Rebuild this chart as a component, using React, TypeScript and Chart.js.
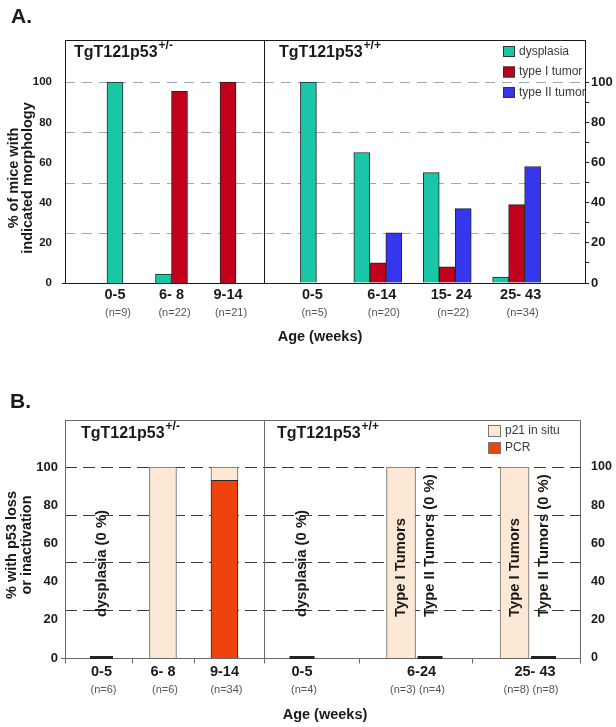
import React, { useEffect, useRef } from "react";
import { Chart, registerables } from "chart.js";
Chart.register(...registerables);

const FONT = "'Liberation Sans', Arial, Helvetica, sans-serif";

// ---------------- Panel A data ----------------
const A_SERIES = ["dysplasia", "type I tumor", "type II tumor"];
const A_HET_AGES = ["0-5", "6- 8", "9-14"];
const A_HET_N = ["(n=9)", "(n=22)", "(n=21)"];
const A_HET_DYSPLASIA = [100, 4.5, null];
const A_HET_TYPE1 = [null, 95.5, 100];
const A_HET_TYPE2 = [null, null, null];

const A_WT_AGES = ["0-5", "6-14", "15- 24", "25- 43"];
const A_WT_N = ["(n=5)", "(n=20)", "(n=22)", "(n=34)"];
const A_WT_DYSPLASIA = [100, 65, 55, 3];
const A_WT_TYPE1 = [null, 10, 8, 39];
const A_WT_TYPE2 = [null, 25, 37, 58];

// ---------------- Panel B data ----------------
const B_SERIES = ["p21 in situ", "PCR"];
const B_HET_AGES = ["0-5", "6- 8", "9-14"];
const B_HET_N = ["(n=6)", "(n=6)", "(n=34)"];
const B_HET_PCR = [0, 0, 93];
const B_HET_P21 = [0, 100, 7];
const B_HET_NOTES = ["dysplasia (0 %)", null, null];

const B_WT_AGES = ["0-5", "6-24", "25- 43"];
const B_WT_T1_N = ["(n=4)", "(n=3)", "(n=8)"];
const B_WT_T1_PCR = [0, 0, 0];
const B_WT_T1_P21 = [0, 100, 100];
const B_WT_T1_NOTES = ["dysplasia (0 %)", "Type I Tumors", "Type I Tumors"];
const B_WT_T2_N = [null, "(n=4)", "(n=8)"];
const B_WT_T2_PCR = [null, 0, 0];
const B_WT_T2_P21 = [null, 0, 0];
const B_WT_T2_NOTES = [null, "Type II Tumors (0 %)", "Type II Tumors (0 %)"];

// ---------------- axes ----------------
const Y_LABEL_TICKS = [0, 20, 40, 60, 80, 100];
const Y_MINOR_TICKS = [0, 10, 20, 30, 40, 50, 60, 70, 80, 90, 100];
const GRID_VALUES = [25, 50, 75, 100];
const NOTE_START = 21.5;

const C_DYS = "#19c7a6";
const C_T1 = "#c1001b";
const C_T2 = "#3636ee";
const C_P21 = "#fde8d5";
const C_PCR = "#ef430d";
const INK = "#1a1a1a";

const SPLIT_X = 264; // page x where the right-hand canvases start
const A_H = 355;
const B_H = 372;

const pts = (arr: (number | null)[]) => arr.map((y, i) => ({ x: i, y }));

function txt(ctx: any, s: string, x: number, y: number, font: string, color: string, align: CanvasTextAlign = "center", baseline: CanvasTextBaseline = "middle") {
  ctx.font = font;
  ctx.fillStyle = color;
  ctx.textAlign = align;
  ctx.textBaseline = baseline;
  ctx.fillText(s, x, y);
}
function vtxt(ctx: any, s: string, x: number, y: number, font: string, color: string, align: CanvasTextAlign = "center") {
  ctx.save();
  ctx.translate(x, y);
  ctx.rotate(-Math.PI / 2);
  txt(ctx, s, 0, 0, font, color, align, "middle");
  ctx.restore();
}
function titleSup(ctx: any, main: string, sup: string, x: number, baseline: number) {
  txt(ctx, main, x, baseline, `bold 16px ${FONT}`, INK, "left", "alphabetic");
  ctx.font = `bold 16px ${FONT}`;
  const w = ctx.measureText(main).width;
  txt(ctx, sup, x + w + 1, baseline - 8, `bold 12px ${FONT}`, INK, "left", "alphabetic");
}
function drawGrid(chart: any, color: string, dash: number[]) {
  const { ctx, chartArea: ca, scales } = chart;
  ctx.save();
  ctx.strokeStyle = color;
  ctx.lineWidth = 1.2;
  ctx.setLineDash(dash);
  GRID_VALUES.forEach((v) => {
    const py = Math.round(scales.y.getPixelForValue(v)) + 0.5;
    ctx.beginPath();
    ctx.moveTo(ca.left, py);
    ctx.lineTo(ca.right, py);
    ctx.stroke();
  });
  ctx.restore();
}
function drawFrame(chart: any, color: string) {
  const { ctx, chartArea: ca } = chart;
  ctx.save();
  ctx.strokeStyle = color;
  ctx.lineWidth = 1;
  ctx.strokeRect(Math.round(ca.left) + 0.5, Math.round(ca.top) + 0.5, Math.round(ca.right - ca.left), Math.round(ca.bottom - ca.top));
  ctx.restore();
}
function legend(ctx: any, names: string[], colors: string[], border: string, x: number, y: number, step: number, w: number, h: number) {
  names.forEach((s, k) => {
    const ly = y + step * k;
    ctx.fillStyle = colors[k];
    ctx.fillRect(x, ly, w, h);
    ctx.strokeStyle = border;
    ctx.lineWidth = 1;
    ctx.strokeRect(x + 0.5, ly + 0.5, w - 1, h - 1);
    txt(ctx, s, x + w + 4, ly + h / 2, `12px ${FONT}`, "#3a3a3a", "left");
  });
}

function valueAxis(o: { position: "left" | "right"; width: number; max: number; size: number; padding: number; values: number[]; tickLength: number }) {
  return {
    type: "linear",
    position: o.position,
    min: 0,
    max: o.max,
    afterBuildTicks: (s: any) => {
      s.ticks = o.values.map((v) => ({ value: v }));
    },
    afterFit: (s: any) => {
      s.width = o.width;
    },
    grid: { display: o.tickLength > 0, drawOnChartArea: false, drawTicks: o.tickLength > 0, tickLength: o.tickLength, color: INK, lineWidth: 1 },
    border: { display: false },
    ticks: {
      autoSkip: false,
      padding: o.padding,
      color: INK,
      font: { family: FONT, size: o.size, weight: "bold" },
      callback: (v: any) => (Number(v) % 20 === 0 ? String(v) : ""),
    },
  };
}

function baseConfig(datasets: any[], xMin: number, xMax: number, yAxis: any, padding: any, stacked: boolean, plugin: any): any {
  const x: any = { type: "linear", display: false, offset: false, min: xMin, max: xMax };
  const y: any = { ...yAxis };
  if (stacked) {
    x.stacked = true;
    y.stacked = true;
  }
  return {
    type: "bar",
    data: { datasets },
    options: {
      responsive: false,
      animation: false,
      events: [],
      layout: { padding },
      plugins: { legend: { display: false }, tooltip: { enabled: false }, title: { display: false } },
      scales: { x, y },
    },
    plugins: [plugin],
  };
}

// ---------------- Panel A ----------------
const barA = (label: string, arr: (number | null)[], color: string) => ({
  label,
  data: pts(arr),
  backgroundColor: color,
  borderColor: "#262626",
  borderWidth: 1,
  barThickness: 16,
  skipNull: true,
});
const A_BOLD = `bold 14.5px ${FONT}`;
const N_FONT = `11px ${FONT}`;
const NOTE_FONT = `bold 14.8px ${FONT}`;
const A_GRID = "#9ea6ba";
const A_DASH = [10, 7];

function configALeft(): any {
  const plugin = {
    id: "aLeft",
    beforeDatasetsDraw(chart: any) {
      drawGrid(chart, A_GRID, A_DASH);
    },
    afterDatasetsDraw(chart: any) {
      const { ctx, chartArea: ca, scales } = chart;
      drawFrame(chart, INK);
      ctx.save();
      ctx.strokeStyle = INK;
      ctx.beginPath();
      ctx.moveTo(ca.left - 3, Math.round(ca.bottom) + 0.5);
      ctx.lineTo(ca.left, Math.round(ca.bottom) + 0.5);
      ctx.stroke();
      A_HET_AGES.forEach((a, i) => {
        const px = scales.x.getPixelForValue(i);
        txt(ctx, a, px, 295, A_BOLD, INK);
        txt(ctx, A_HET_N[i], px + 3, 313, N_FONT, "#555");
      });
      titleSup(ctx, "TgT121p53", "+/-", ca.left + 9, ca.top + 17);
      vtxt(ctx, "% of mice with", 14, 178, A_BOLD, INK);
      vtxt(ctx, "indicated morphology", 28, 178, A_BOLD, INK);
      txt(ctx, "A.", 11, 23, `bold 21px ${FONT}`, INK, "left", "alphabetic");
      ctx.restore();
    },
  };
  return baseConfig(
    [barA(A_SERIES[0], A_HET_DYSPLASIA, C_DYS), barA(A_SERIES[1], A_HET_TYPE1, C_T1), barA(A_SERIES[2], A_HET_TYPE2, C_T2)],
    -0.885,
    2.637,
    valueAxis({ position: "left", width: 65, max: 121, size: 11.5, padding: 13, values: Y_LABEL_TICKS, tickLength: 0 }),
    { top: 40, bottom: A_H - 283, left: 0, right: 1 },
    false,
    plugin
  );
}

function configARight(): any {
  const plugin = {
    id: "aRight",
    beforeDatasetsDraw(chart: any) {
      drawGrid(chart, A_GRID, A_DASH);
    },
    afterDatasetsDraw(chart: any) {
      const { ctx, chartArea: ca, scales } = chart;
      drawFrame(chart, INK);
      ctx.save();
      A_WT_AGES.forEach((a, i) => {
        const px = scales.x.getPixelForValue(i);
        txt(ctx, a, px + 4, 295, A_BOLD, INK);
        txt(ctx, A_WT_N[i], px + 6, 313, N_FONT, "#555");
      });
      titleSup(ctx, "TgT121p53", "+/+", ca.left + 15, ca.top + 17);
      legend(ctx, A_SERIES, [C_DYS, C_T1, C_T2], "#333", ca.right - 82, ca.top + 6, 20.5, 12, 11);
      txt(ctx, "Age (weeks)", 320 - SPLIT_X, 337, A_BOLD, INK);
      ctx.restore();
    },
  };
  return baseConfig(
    [barA(A_SERIES[0], A_WT_DYSPLASIA, C_DYS), barA(A_SERIES[1], A_WT_TYPE1, C_T1), barA(A_SERIES[2], A_WT_TYPE2, C_T2)],
    -0.64,
    3.985,
    valueAxis({ position: "right", width: 31, max: 121, size: 13, padding: 2, values: Y_MINOR_TICKS, tickLength: 4 }),
    { top: 40, bottom: A_H - 283, left: 0, right: 0 },
    false,
    plugin
  );
}

// ---------------- Panel B ----------------
const B_TOP = 355;
const B_GRID = "#3a3a3a";
const B_DASH = [12, 6];
const barB = (label: string, arr: (number | null)[], stack: string, color: string, border: string, thickness: number, extra: any = {}) => ({
  label,
  data: pts(arr),
  stack,
  backgroundColor: color,
  borderColor: border,
  borderWidth: 1,
  barThickness: thickness,
  skipNull: true,
  ...extra,
});

function drawBDecor(chart: any, marks: number[]) {
  const { ctx, chartArea: ca, scales } = chart;
  drawFrame(chart, "#6a6a6a");
  const base = Math.round(ca.bottom) + 0.5;
  ctx.save();
  ctx.strokeStyle = "#6a6a6a";
  ctx.lineWidth = 1;
  ctx.beginPath();
  marks.forEach((m) => {
    const mx = Math.round(m) + 0.5;
    ctx.moveTo(mx, base);
    ctx.lineTo(mx, base + 5);
  });
  ctx.stroke();
  chart.data.datasets.forEach((ds: any, di: number) => {
    if (!ds._notes) return;
    const meta = chart.getDatasetMeta(di);
    meta.data.forEach((el: any, i: number) => {
      const v = ds.data[i].y;
      if (v === null) return;
      const pair = ds._pair[i] ?? 0;
      if (v === 0 && pair === 0) {
        ctx.fillStyle = "#222";
        ctx.fillRect(el.x - el.width / 2 + 2, Math.round(ca.bottom) - 2, el.width - 4, 3);
      }
      if (ds._notes[i]) {
        vtxt(ctx, ds._notes[i], el.x, scales.y.getPixelForValue(NOTE_START), NOTE_FONT, INK, "left");
      }
      if (ds._n[i]) txt(ctx, ds._n[i], el.x + 2, 690 - B_TOP, N_FONT, "#555");
    });
  });
  ctx.restore();
}

function configBLeft(): any {
  const plugin = {
    id: "bLeft",
    beforeDatasetsDraw(chart: any) {
      drawGrid(chart, B_GRID, B_DASH);
    },
    afterDatasetsDraw(chart: any) {
      const { ctx, chartArea: ca, scales } = chart;
      const marks = [ca.left, ca.right];
      for (let i = 0; i < B_HET_AGES.length - 1; i++) marks.push(scales.x.getPixelForValue(i + 0.5));
      drawBDecor(chart, marks);
      ctx.save();
      ctx.strokeStyle = "#6a6a6a";
      ctx.beginPath();
      ctx.moveTo(ca.left - 4, Math.round(ca.bottom) + 0.5);
      ctx.lineTo(ca.left, Math.round(ca.bottom) + 0.5);
      ctx.stroke();
      B_HET_AGES.forEach((a, i) => txt(ctx, a, scales.x.getPixelForValue(i), 672 - B_TOP, A_BOLD, INK));
      titleSup(ctx, "TgT121p53", "+/-", ca.left + 16, ca.top + 18);
      vtxt(ctx, "% with p53 loss", 12, 545 - B_TOP, A_BOLD, INK);
      vtxt(ctx, "or inactivation", 27, 545 - B_TOP, A_BOLD, INK);
      txt(ctx, "B.", 10, 408 - B_TOP, `bold 21px ${FONT}`, INK, "left", "alphabetic");
      ctx.restore();
    },
  };
  return baseConfig(
    [
      barB(B_SERIES[1], B_HET_PCR, "het", C_PCR, "#2a2a2a", 27),
      barB(B_SERIES[0], B_HET_P21, "het", C_P21, "#6a6a6a", 27, { _notes: B_HET_NOTES, _n: B_HET_N, _pair: B_HET_PCR }),
    ],
    -0.593,
    2.643,
    valueAxis({ position: "left", width: 65, max: 124.6, size: 13, padding: 7, values: Y_LABEL_TICKS, tickLength: 0 }),
    { top: 420 - B_TOP, bottom: B_H - (658 - B_TOP), left: 0, right: 1 },
    true,
    plugin
  );
}

function configBRight(): any {
  const plugin = {
    id: "bRight",
    beforeDatasetsDraw(chart: any) {
      drawGrid(chart, B_GRID, B_DASH);
    },
    afterDatasetsDraw(chart: any) {
      const { ctx, chartArea: ca, scales } = chart;
      const marks = [ca.right];
      for (let i = 0; i < B_WT_AGES.length - 1; i++) marks.push(scales.x.getPixelForValue(i + 0.5));
      drawBDecor(chart, marks);
      ctx.save();
      B_WT_AGES.forEach((a, i) => txt(ctx, a, scales.x.getPixelForValue(i) + (i === 0 ? 0 : 6), 672 - B_TOP, A_BOLD, INK));
      titleSup(ctx, "TgT121p53", "+/+", ca.left + 13, ca.top + 18);
      legend(ctx, B_SERIES, [C_P21, C_PCR], "#777", ca.right - 92, ca.top + 5, 17, 13, 12);
      txt(ctx, "Age (weeks)", 325 - SPLIT_X, 715 - B_TOP, A_BOLD, INK);
      ctx.restore();
    },
  };
  return baseConfig(
    [
      barB(B_SERIES[1], B_WT_T1_PCR, "typeI", C_PCR, "#2a2a2a", 29),
      barB(B_SERIES[0], B_WT_T1_P21, "typeI", C_P21, "#6a6a6a", 29, { _notes: B_WT_T1_NOTES, _n: B_WT_T1_N, _pair: B_WT_T1_PCR }),
      barB(B_SERIES[1], B_WT_T2_PCR, "typeII", C_PCR, "#2a2a2a", 29),
      barB(B_SERIES[0], B_WT_T2_P21, "typeII", C_P21, "#6a6a6a", 29, { _notes: B_WT_T2_NOTES, _n: B_WT_T2_N, _pair: B_WT_T2_PCR }),
    ],
    -0.335,
    2.449,
    valueAxis({ position: "right", width: 36, max: 124.6, size: 12.5, padding: 11, values: Y_LABEL_TICKS, tickLength: 0 }),
    { top: 420 - B_TOP, bottom: B_H - (658 - B_TOP), left: 0, right: 0 },
    true,
    plugin
  );
}

export default function App() {
  const r1 = useRef<HTMLCanvasElement>(null);
  const r2 = useRef<HTMLCanvasElement>(null);
  const r3 = useRef<HTMLCanvasElement>(null);
  const r4 = useRef<HTMLCanvasElement>(null);
  useEffect(() => {
    const charts = [
      new Chart(r1.current as HTMLCanvasElement, configALeft()),
      new Chart(r2.current as HTMLCanvasElement, configARight()),
      new Chart(r3.current as HTMLCanvasElement, configBLeft()),
      new Chart(r4.current as HTMLCanvasElement, configBRight()),
    ];
    return () => charts.forEach((c) => c.destroy());
  }, []);
  const LW = SPLIT_X + 1;
  const RW = 616 - SPLIT_X;
  const st = (left: number, top: number, w: number, h: number): React.CSSProperties => ({ position: "absolute", left, top, width: w, height: h, display: "block" });
  return (
    <div style={{ position: "absolute", left: 0, top: 0, width: 616, height: 727, background: "#fff" }}>
      <canvas ref={r1} width={LW} height={A_H} style={st(0, 0, LW, A_H)} />
      <canvas ref={r2} width={RW} height={A_H} style={st(SPLIT_X, 0, RW, A_H)} />
      <canvas ref={r3} width={LW} height={B_H} style={st(0, B_TOP, LW, B_H)} />
      <canvas ref={r4} width={RW} height={B_H} style={st(SPLIT_X, B_TOP, RW, B_H)} />
    </div>
  );
}
